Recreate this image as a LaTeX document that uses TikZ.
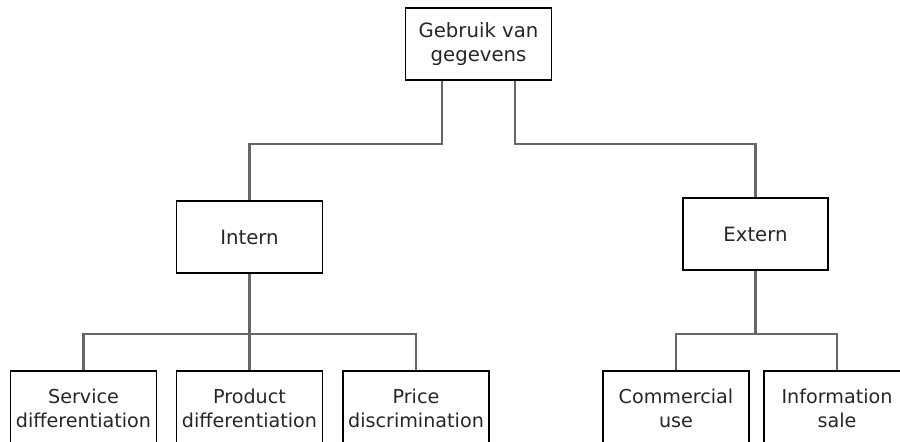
\documentclass[tikz,border=0pt]{standalone}
\usepackage{fontspec}
\setmainfont{DejaVu Sans}
\usetikzlibrary{positioning}

\begin{document}
\begin{tikzpicture}[
  box/.style={draw, line width=1.1pt, minimum width=2.92cm, minimum height=1.44cm,
    inner sep=1pt, align=center, text=black!85, font=\fontsize{11.2}{13.6}\selectfont},
  leaf/.style={box, anchor=north, minimum height=1.5cm, font=\fontsize{10.9}{13.4}\selectfont},
  link/.style={draw=black!60, line width=1.2pt}]
\useasboundingbox (0,0) rectangle (18,-8.82);
\clip (0,0) rectangle (18,-8.82);
% root and the two branches
\node[box] (root) at (9.57,-0.88) {Gebruik van\\gegevens};
\node[box] (intern) at (4.99,-4.74) {Intern};
\node[box, minimum width=2.9cm] (extern) at (15.11,-4.68) {Extern};
\draw[link] ([xshift=-0.73cm]root.south) -- ++(0,-1.26) -| (intern.north);
\draw[link] ([xshift=0.73cm]root.south) -- ++(0,-1.26) -| (extern.north);
% leaves of intern
\node[leaf] (service) at (1.67,-7.40) {Service\\differentiation};
\node[leaf] (product) at (4.99,-7.40) {Product\\differentiation};
\node[leaf] (price) at (8.32,-7.40) {Price\\discrimination};
\draw[link] (intern.south) -- ++(0,-1.20) coordinate (ibus);
\draw[link] (ibus) -| (service.north);
\draw[link] (ibus) -| (price.north);
\draw[link] (ibus) -- (product.north);
% leaves of extern
\node[leaf] (commercial) at (13.52,-7.40) {Commercial\\use};
\node[leaf] (info) at (16.74,-7.40) {Information\\sale};
\draw[link] (extern.south) -- ++(0,-1.26) coordinate (ebus);
\draw[link] (ebus) -| (commercial.north);
\draw[link] (ebus) -| (info.north);
\end{tikzpicture}
\end{document}
